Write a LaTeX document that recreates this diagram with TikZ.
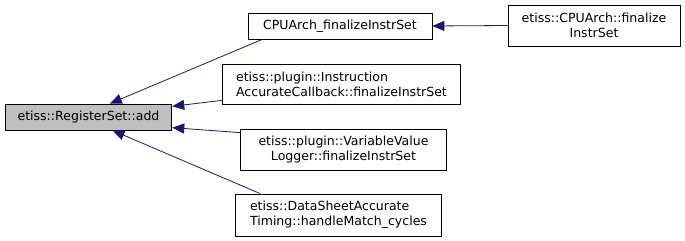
\documentclass[tikz,border=0pt]{standalone}
\usepackage{fontspec}
\setmainfont{DejaVu Sans}
\usetikzlibrary{arrows.meta}
\definecolor{edgeblue}{HTML}{191970}
\definecolor{hilite}{HTML}{BFBFBF}
\tikzset{
  fn/.style={draw=black, line width=0.6pt, inner sep=1pt,
    font=\fontsize{9.4}{11}\selectfont},
  calls/.style={draw=edgeblue, line width=0.6pt,
    -{Triangle[length=9pt,width=7.5pt]}},
}
\begin{document}
\begin{tikzpicture}[x=0.75pt,y=-0.75pt]
\useasboundingbox[fill=white] (0,0) rectangle (685,241);
% the function and its callers
\node[fn, fill=hilite, minimum width=125pt, minimum height=19.5pt] (add) at (88.5,117) {etiss::RegisterSet::add};
\node[fn, minimum width=138pt, minimum height=19.5pt] (cpu) at (340,26) {CPUArch\_finalizeInstrSet};
\node[fn, align=center, minimum width=129pt, minimum height=30.75pt] (arch) at (594,25.5) {etiss::CPUArch::finalize\\InstrSet};
\node[fn, align=left, minimum width=179pt, minimum height=30pt] (instr) at (341.5,84) {etiss::plugin::Instruction\\AccurateCallback::finalizeInstrSet};
\node[fn, align=center, minimum width=155pt, minimum height=30.75pt] (logger) at (343.5,149.5) {etiss::plugin::VariableValue\\Logger::finalizeInstrSet};
\node[fn, align=left, minimum width=155pt, minimum height=31.5pt] (timing) at (338.5,215) {etiss::DataSheetAccurate\\Timing::handleMatch\_cycles};
% call edges
\draw[calls] (arch.west) -- (cpu.east);
\draw[calls] ([xshift=11pt]cpu.south west) -- ([xshift=16pt]add.north);
\draw[calls] ([yshift=3pt]instr.south west) -- ([yshift=8pt]add.east);
\draw[calls] ([yshift=-3pt]logger.north west) -- ([yshift=-8pt]add.east);
\draw[calls] ([xshift=19pt]timing.north west) -- ([xshift=18pt]add.south);
\end{tikzpicture}
\end{document}
